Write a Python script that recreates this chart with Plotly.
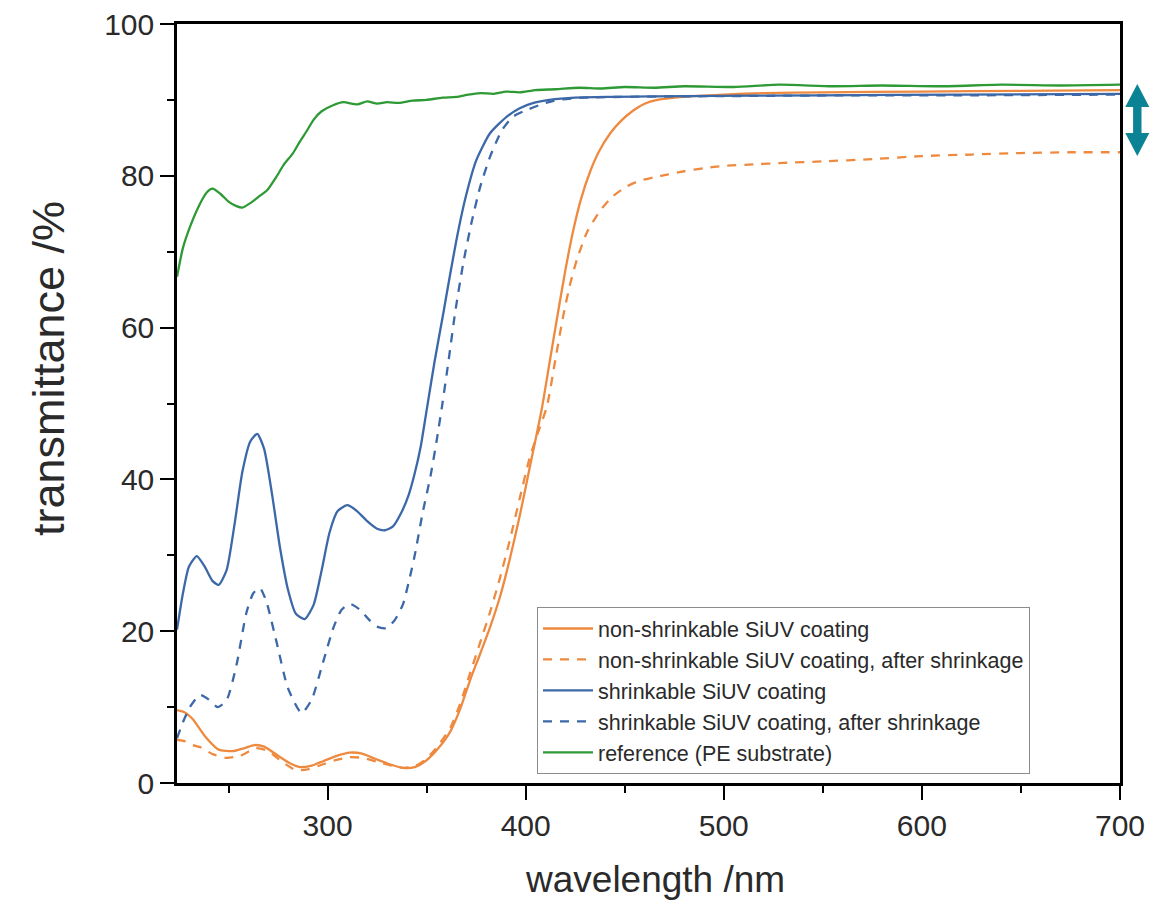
import plotly.graph_objects as go

# ---------------- data ----------------
wl_ns = [224, 228, 232, 238, 245, 252, 258, 263, 268, 275, 281, 286, 292, 298, 305, 311,
         317, 324, 331, 338, 344, 350, 356, 362, 367, 372, 377, 382, 387, 392, 397, 402,
         408, 412, 416, 420, 424, 428, 432.6, 437, 442.7, 448, 454.3, 460, 466.4, 475, 485, 500,
         520, 550, 600, 650, 700]
t_ns = [9.6, 9.3, 8.4, 6.2, 4.4, 4.2, 4.6, 5.0, 4.8, 3.6, 2.6, 2.1, 2.3, 2.9, 3.6, 4.0,
        3.9, 3.2, 2.5, 2.0, 2.1, 3.0, 4.6, 6.8, 9.8, 13.6, 17.0, 20.5, 24.5, 29.5, 35.2, 41.5,
        49.1, 55.3, 61.5, 67.5, 72.8, 77.0, 80.6, 83.2, 85.6, 87.2, 88.6, 89.5, 90.0, 90.3, 90.5, 90.7,
        90.9, 91.0, 91.1, 91.2, 91.3]

wl_ns_after = [224, 228, 232, 236, 242, 249, 256, 264, 270, 277, 284, 290, 297, 304, 311, 318,
               325, 332, 338, 344, 350, 356, 362, 367, 372, 377, 382, 387, 392, 397, 402, 406,
               410.7, 415, 419, 422.5, 425.9, 431, 437.6, 444, 451, 457, 464.5, 472, 480, 490, 500, 515,
               530, 550, 575, 600, 625, 650, 675, 700]
t_ns_after = [5.7, 5.5, 5.0, 4.7, 3.8, 3.3, 3.6, 4.6, 4.2, 2.8, 1.7, 1.8, 2.4, 3.0, 3.4, 3.3,
              2.8, 2.3, 2.0, 2.2, 3.2, 5.0, 7.3, 10.5, 14.5, 18.5, 22.5, 27.0, 32.0, 37.5, 42.8, 46.0,
              49.6, 55.8, 61.6, 65.8, 69.0, 72.6, 75.4, 77.3, 78.6, 79.3, 79.8, 80.2, 80.6, 81.0, 81.3, 81.5,
              81.7, 81.9, 82.2, 82.6, 82.8, 83.0, 83.1, 83.1]

wl_s = [224, 227, 230, 234, 238, 242, 245, 249, 253, 257, 261, 264.5, 268, 272, 276, 280,
        284, 288.5, 293, 297, 301, 305, 310, 315, 320, 325, 329, 333, 337, 341, 344, 347,
        350, 354, 358.5, 362, 366, 370, 375, 382, 390.5, 397, 404, 412, 425, 445, 480, 550,
        620, 700]
t_s = [20.2, 25.0, 28.5, 29.9, 28.5, 26.6, 26.1, 28.0, 34.0, 41.0, 45.0, 46.0, 44.0, 38.0, 31.0, 25.5,
       22.3, 21.6, 23.5, 28.0, 33.0, 35.8, 36.6, 35.8, 34.5, 33.5, 33.3, 33.8, 35.5, 38.0, 40.8, 44.3,
       49.1, 55.5, 62.0, 67.2, 72.8, 77.5, 82.0, 85.6, 87.8, 88.9, 89.6, 90.0, 90.3, 90.4, 90.5, 90.6,
       90.7, 90.8]

wl_s_after = [224, 227, 230.5, 235.5, 240, 244.5, 249, 254, 259, 262.5, 265.8, 269, 274.4, 280, 286.9, 292,
              297.6, 303, 307, 311.2, 316, 321, 325, 329.8, 334, 338, 341, 344, 348, 352, 355, 357.7,
              361, 364.4, 368.5, 372.8, 377, 382, 388, 393.7, 400.8, 410, 416, 430, 450, 500, 560,
              620, 700]
t_s_after = [5.9, 8.0, 10.0, 11.6, 11.0, 10.0, 10.9, 15.5, 22.4, 25.0, 25.7, 24.0, 18.4, 12.5, 9.2, 11.0,
             15.8, 20.5, 22.8, 23.6, 22.9, 21.5, 20.6, 20.4, 21.5, 23.5, 26.5, 30.0, 35.6, 40.5, 45.0, 49.5,
             55.5, 62.0, 68.5, 74.0, 78.5, 82.5, 86.0, 87.8, 88.7, 89.6, 90.0, 90.3, 90.4, 90.5, 90.6,
             90.6, 90.7]

wl_ref = [224, 227, 230.6, 235, 239, 242, 246, 250, 254, 257, 261, 265, 269.5, 274, 278, 282.6,
          286, 289.7, 293, 297, 302.8, 308, 315, 320, 325, 330, 336, 343, 350, 358, 365, 371,
          377, 384, 390, 397, 405, 415, 427, 438, 450, 465, 480, 505, 528, 555, 580, 610,
          640, 670, 700]
t_ref = [66.7, 70.5, 73.3, 76.0, 77.8, 78.3, 77.6, 76.6, 76.0, 75.8, 76.4, 77.2, 78.1, 79.8, 81.5, 83.0,
         84.5, 86.0, 87.4, 88.5, 89.3, 89.7, 89.4, 89.8, 89.5, 89.7, 89.6, 89.9, 90.0, 90.3, 90.4, 90.7,
         90.9, 90.8, 91.1, 91.0, 91.3, 91.4, 91.6, 91.5, 91.7, 91.6, 91.8, 91.7, 92.0, 91.8, 91.9, 91.8,
         92.0, 91.9, 92.0]

series_names = ["non-shrinkable SiUV coating",
                "non-shrinkable SiUV coating, after shrinkage",
                "shrinkable SiUV coating",
                "shrinkable SiUV coating, after shrinkage",
                "reference (PE substrate)"]

x_tickvals = [300, 400, 500, 600, 700]
y_tickvals = [0, 20, 40, 60, 80, 100]
x_title = "wavelength /nm"
y_title = "transmittance /%"

# ---------------- styling ----------------
ORANGE = "#EE8A3F"
BLUE = "#3C68A8"
GREEN = "#2E9A35"
TEAL = "#0B8394"
TXT = "#2a2a2a"
FONT = "Liberation Sans, Arial, sans-serif"

styles = [
    (wl_ns, t_ns, ORANGE, "solid"),
    (wl_ns_after, t_ns_after, ORANGE, "9px,8px"),
    (wl_s, t_s, BLUE, "solid"),
    (wl_s_after, t_s_after, BLUE, "9px,8px"),
    (wl_ref, t_ref, GREEN, "solid"),
]

fig = go.Figure()
for i, ((xs, ys, col, dash), name) in enumerate(zip(styles, series_names)):
    fig.add_trace(go.Scatter(
        x=xs, y=ys, mode="lines", name=name, legendgroup=f"g{i}",
        line=dict(color=col, width=2.3, dash=dash, shape="spline", smoothing=0.6),
    ))

# page body has an 8px margin; figure sized so the plot area lands at
# window pixels x 177..1120, y 24..783
OFF = 8
W, H = 1173 - OFF, 904 - OFF
L, T = 177 - OFF, 24 - OFF
R, B = W - (1120 - OFF), H - (783 - OFF)
pw, ph = W - L - R, H - T - B


def px(xw):
    return (xw - OFF - L) / pw


def py(yw):
    return (H - B - (yw - OFF)) / ph


cx = 1137.3
pts = [(cx, 84), (cx + 12, 107), (cx + 4.2, 107), (cx + 4.2, 133), (cx + 12, 133),
       (cx, 156), (cx - 12, 133), (cx - 4.2, 133), (cx - 4.2, 107), (cx - 12, 107)]
path = "M " + " L ".join(f"{px(a):.5f},{py(b):.5f}" for a, b in pts) + " Z"

fig.update_layout(
    width=W, height=H,
    margin=dict(l=L, r=R, t=T, b=B, autoexpand=False),
    paper_bgcolor="white", plot_bgcolor="white",
    font=dict(family=FONT, color=TXT),
    showlegend=True,
    legend=dict(
        x=px(537), y=py(607), xanchor="left", yanchor="top",
        bordercolor="#8c8c8c", borderwidth=1, bgcolor="white",
        font=dict(size=21.5, family=FONT, color=TXT),
        traceorder="grouped", tracegroupgap=0, itemwidth=50,
    ),
    shapes=[dict(type="path", xref="paper", yref="paper", path=path,
                 fillcolor=TEAL, line=dict(color=TEAL, width=0))],
    annotations=[
        dict(text=x_title, xref="paper", yref="paper", x=px(655), y=py(879),
             xanchor="center", yanchor="middle", showarrow=False,
             font=dict(size=37, family=FONT, color=TXT)),
        dict(text=y_title, xref="paper", yref="paper", x=px(48), y=py(369),
             xanchor="center", yanchor="middle", showarrow=False, textangle=-90,
             font=dict(size=45, family=FONT, color=TXT)),
    ],
)

fig.update_xaxes(
    range=[224, 700], tickmode="array", tickvals=x_tickvals,
    ticks="outside", ticklen=14, tickwidth=2, tickcolor="black",
    minor=dict(ticks="outside", ticklen=7, tickwidth=2, tickcolor="black", dtick=50, tick0=250),
    showline=True, linewidth=2.5, linecolor="black", mirror=True,
    showgrid=False, zeroline=False, ticklabeloverflow="allow",
    tickfont=dict(size=30, family=FONT, color=TXT),
)
fig.update_yaxes(
    range=[0, 100], tickmode="array", tickvals=y_tickvals,
    ticks="outside", ticklen=14, tickwidth=2, tickcolor="black",
    minor=dict(ticks="outside", ticklen=7, tickwidth=2, tickcolor="black", dtick=10, tick0=0),
    showline=True, linewidth=2.5, linecolor="black", mirror=True,
    showgrid=False, zeroline=False, ticklabeloverflow="allow",
    tickfont=dict(size=30, family=FONT, color=TXT),
)

fig.write_html("out.html")
